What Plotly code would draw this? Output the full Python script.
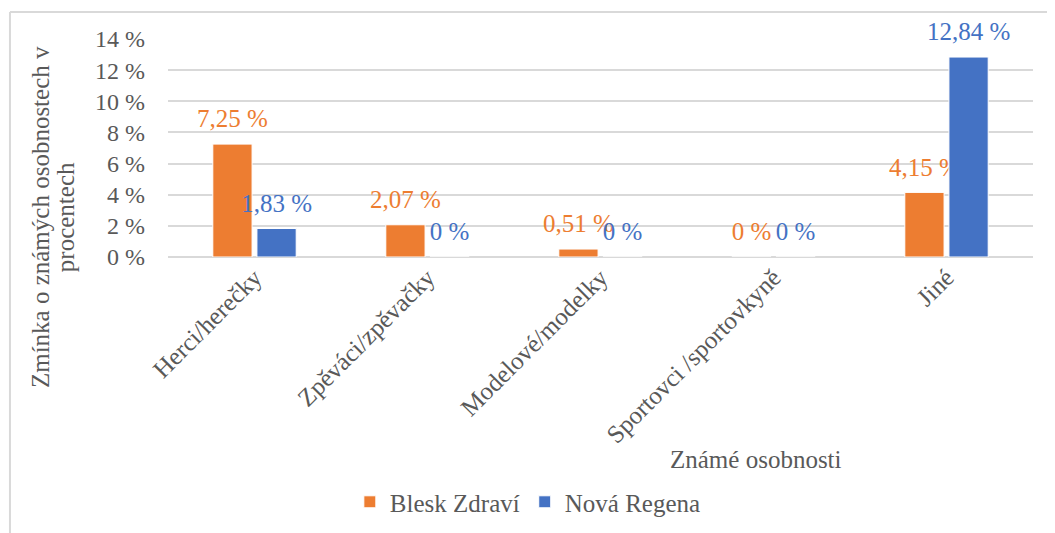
import plotly.graph_objs as go

categories = ["Herci/herečky", "Zpěváci/zpěvačky", "Modelové/modelky", "Sportovci /sportovkyně", "Jiné"]
blesk = [7.25, 2.07, 0.51, 0, 4.15]
regena = [1.83, 0, 0, 0, 12.84]
series_names = ["Blesk Zdraví", "Nová Regena"]
ytick_vals = [0, 2, 4, 6, 8, 10, 12, 14]

ORANGE = "#ED7D31"
BLUE = "#4472C4"
GREY = "#595959"
FONT = "Liberation Serif"


def label(v):
    if v == 0:
        return "0 %"
    return ("%.2f" % v).replace(".", ",") + " %"


fig = go.Figure()
for name, vals, color in [(series_names[0], blesk, ORANGE), (series_names[1], regena, BLUE)]:
    fig.add_trace(
        go.Bar(
            x=categories,
            y=vals,
            name=name,
            marker=dict(color=color, line=dict(color="white", width=1)),
            text=[label(v) for v in vals],
            # big label + tiny empty line underneath = some room above the bar
            texttemplate="<span style='font-size:25px'>%{text}</span><br> ",
            textposition="outside",
            constraintext="none",
            textfont=dict(family=FONT, size=9, color=color),
            cliponaxis=False,
        )
    )

# page body has an 8px default margin, so margins are shifted by 8px
fig.update_layout(
    width=1055,
    height=533,
    paper_bgcolor="white",
    plot_bgcolor="white",
    barmode="group",
    bargap=0.49,
    bargroupgap=0.11,
    font=dict(family=FONT, size=25, color=GREY),
    margin=dict(l=160, r=30, t=31, b=284, autoexpand=False),
    showlegend=True,
    legend=dict(
        orientation="h",
        x=0.416,
        xanchor="center",
        y=-1.124,
        yanchor="middle",
        font=dict(family=FONT, size=25, color=GREY),
    ),
)

fig.update_yaxes(
    range=[0, 14],
    tickvals=ytick_vals,
    ticktext=["%d %%" % v for v in ytick_vals],
    showgrid=True,
    gridcolor="#D9D9D9",
    gridwidth=2,
    zeroline=True,
    zerolinecolor="#D9D9D9",
    zerolinewidth=2,
    showline=False,
    ticks="",
    automargin=False,
    tickfont=dict(family=FONT, size=24, color=GREY),
    ticklabelstandoff=22,
)
fig.update_xaxes(
    tickangle=-45,
    showline=False,
    ticks="",
    automargin=False,
    tickfont=dict(family=FONT, size=25, color=GREY),
)

# axis titles
for txt, xpos in [("Zmínka o známých osobnostech v", -0.148), ("procentech", -0.119)]:
    fig.add_annotation(
        text=txt, xref="paper", yref="paper",
        x=xpos, y=0.183, xanchor="center", yanchor="middle",
        textangle=-90, showarrow=False,
        font=dict(family=FONT, size=25, color=GREY),
    )
fig.add_annotation(
    text="Známé osobnosti", xref="paper", yref="paper",
    x=0.68, y=-0.93, xanchor="center", yanchor="middle", showarrow=False,
    font=dict(family=FONT, size=25, color=GREY),
)

# chart border (left and top)
fig.add_shape(type="line", xref="paper", yref="paper", x0=-0.1827, x1=-0.1827, y0=1.124, y1=-1.3,
              line=dict(color="#D9D9D9", width=2))
fig.add_shape(type="line", xref="paper", yref="paper", x0=-0.1827, x1=1.05, y0=1.124, y1=1.124,
              line=dict(color="#D9D9D9", width=2))

fig.write_html("out.html")
